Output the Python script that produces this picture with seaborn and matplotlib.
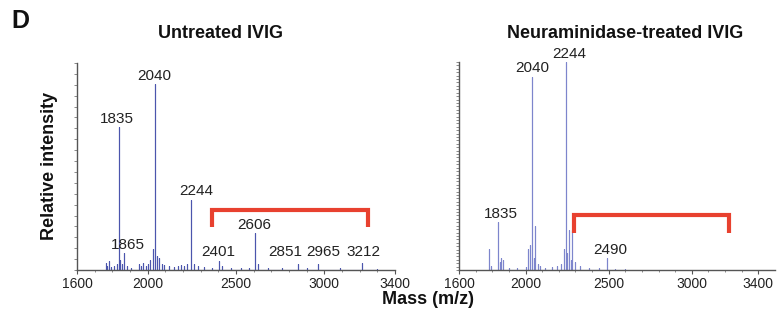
import numpy as np
import pandas as pd
import matplotlib
matplotlib.use("Agg")
import matplotlib.pyplot as plt
import seaborn as sns

# --- Spectrum data (m/z, relative intensity as fraction of the axis height) ---
untreated_mz = [1762, 1772, 1781, 1790, 1812, 1828, 1835, 1842, 1852, 1865, 1882, 1905,
                1950, 1962, 1975, 1988, 2002, 2015, 2028, 2040, 2052, 2066, 2080, 2095,
                2120, 2150, 2172, 2190, 2205, 2222, 2244, 2262, 2285, 2320, 2365, 2401,
                2418, 2470, 2530, 2575, 2606, 2622, 2680, 2760, 2851, 2900, 2965, 3090,
                3212, 3300]
untreated_int = [0.035, 0.02, 0.045, 0.015, 0.02, 0.03, 0.69, 0.05, 0.03, 0.08, 0.02, 0.01,
                 0.03, 0.02, 0.035, 0.02, 0.03, 0.05, 0.10, 0.90, 0.07, 0.06, 0.03, 0.025,
                 0.02, 0.015, 0.02, 0.025, 0.02, 0.03, 0.34, 0.03, 0.02, 0.015, 0.01, 0.045,
                 0.02, 0.01, 0.012, 0.01, 0.18, 0.03, 0.01, 0.008, 0.03, 0.008, 0.03, 0.008,
                 0.035, 0.006]
untreated_labels = [1835, 1865, 2040, 2244, 2401, 2606, 2851, 2965, 3212]

treated_mz = [1780, 1790, 1835, 1845, 1852, 1862, 1900, 1950, 2000, 2018, 2030, 2040,
              2050, 2060, 2075, 2090, 2120, 2160, 2190, 2215, 2232, 2244, 2252, 2262,
              2272, 2282, 2300, 2330, 2380, 2440, 2490, 2540, 2600]
treated_int = [0.10, 0.02, 0.23, 0.04, 0.06, 0.05, 0.01, 0.01, 0.015, 0.10, 0.12, 0.93,
               0.06, 0.21, 0.03, 0.02, 0.012, 0.015, 0.02, 0.03, 0.10, 1.00, 0.08, 0.19,
               0.05, 0.19, 0.04, 0.02, 0.01, 0.008, 0.058, 0.006, 0.005]
treated_labels = [1835, 2040, 2244, 2490]

# Red brackets marking the sialylated region (m/z range)
untreated_bracket = [2365, 3245]
treated_bracket = [2290, 3225]

panel_titles = ["Untreated IVIG", "Neuraminidase-treated IVIG"]
x_ticks = [1600, 2000, 2500, 3000, 3400]

FONT = ["Liberation Sans", "DejaVu Sans"]


def stick_frame(mz, inten):
    # turn peak list into a zig-zag stick trace for lineplot
    order = np.argsort(mz)
    xs, ys = [], []
    for i in order:
        xs += [mz[i], mz[i], mz[i]]
        ys += [0.0, inten[i], 0.0]
    return pd.DataFrame({"mz": xs, "intensity": ys})


def draw_panel(ax, mz, inten, labels, bracket, br_y, br_leg, color, xlim,
               n_yticks, label_dx):
    df = stick_frame(mz, inten)
    sns.lineplot(data=df, x="mz", y="intensity", ax=ax, estimator=None, sort=False,
                 color=color, linewidth=0.8)
    ax.set_xlim(*xlim)
    ax.set_ylim(0, 1.0)
    ax.set_xlabel("")
    ax.set_ylabel("")
    ax.set_xticks(x_ticks)
    ax.set_xticklabels([str(t) for t in x_ticks], fontsize=10, family=FONT, color="#222222")
    ax.set_xticks(np.arange(1600, 3500, 100), minor=True)
    ax.set_yticks([])
    ax.set_yticks(np.linspace(0, 1, n_yticks), minor=True)
    ax.tick_params(axis="x", which="major", length=3, width=0.8, pad=2, color="#555555")
    ax.tick_params(axis="x", which="minor", length=1.5, width=0.6, color="#777777")
    ax.tick_params(axis="y", which="minor", length=2.5, width=0.6, color="#777777")
    for side in ["top", "right"]:
        ax.spines[side].set_visible(False)
    for side in ["left", "bottom"]:
        ax.spines[side].set_color("#555555")
        ax.spines[side].set_linewidth(1.0)

    # peak labels
    lookup = dict(zip(mz, inten))
    for m in labels:
        h = lookup[m]
        y = max(h + 0.02, 0.068)
        ax.annotate(str(m), xy=(m, y), xytext=(label_dx.get(m, 0), 0),
                    textcoords="offset points", ha="center", va="baseline",
                    fontsize=11, family=FONT, color="#222222", annotation_clip=False)

    # red bracket
    x0, x1 = bracket
    ax.plot([x0, x0, x1, x1], [br_leg, br_y, br_y, br_leg], color="#e8412f",
            linewidth=3, solid_joinstyle="miter", solid_capstyle="butt", clip_on=False)


sns.set_style("ticks")
plt.rcParams["font.family"] = FONT

fig = plt.figure(figsize=(7.77, 3.14), dpi=100)
ax1 = fig.add_axes([0.0991, 0.1401, 0.4093, 0.6592])
ax2 = fig.add_axes([0.5907, 0.1401, 0.4067, 0.6624])

draw_panel(ax1, untreated_mz, untreated_int, untreated_labels, untreated_bracket,
           0.29, 0.21, "#4b55ad", (1600, 3400), 20,
           {1835: -1, 1865: 3, 2244: 4, 2851: -9, 2965: 4, 3212: 1})
draw_panel(ax2, treated_mz, treated_int, treated_labels, treated_bracket,
           0.265, 0.18, "#7d85cc", (1600, 3500), 62,
           {1835: 2, 2244: 2, 2490: 2})

fig.text(220 / 777, 1 - 33 / 314, panel_titles[0], ha="center", va="center",
         fontsize=13, fontweight="bold", color="#111111")
fig.text(625 / 777, 1 - 33 / 314, panel_titles[1], ha="center", va="center",
         fontsize=13, fontweight="bold", color="#111111")
fig.text(20 / 777, 1 - 21 / 314, "D", ha="center", va="center",
         fontsize=18, fontweight="bold", color="#111111")
fig.text(50 / 777, 1 - 166 / 314, "Relative intensity", ha="center", va="center",
         rotation=90, fontsize=13, fontweight="bold", color="#111111")
fig.text(428 / 777, 1 - 300 / 314, "Mass (m/z)", ha="center", va="center",
         fontsize=13, fontweight="bold", color="#111111")

fig.savefig("out.png", dpi=100)
